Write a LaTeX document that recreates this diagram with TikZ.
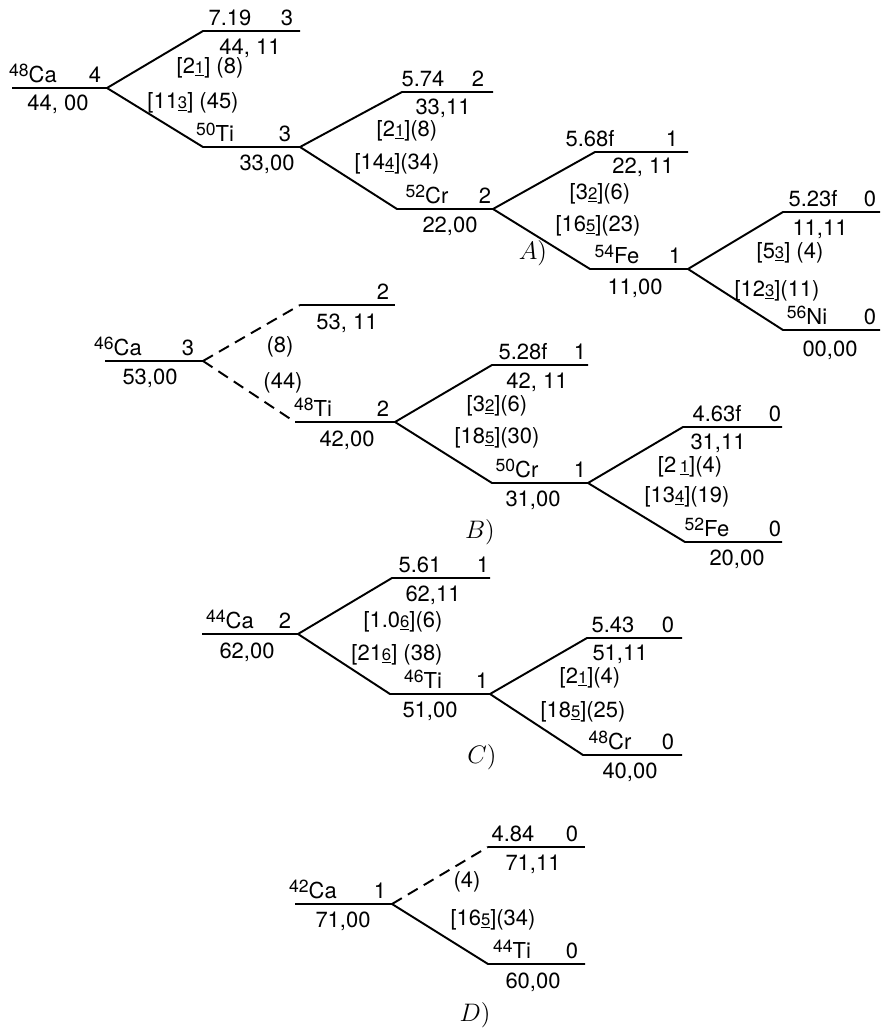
\documentclass[tikz,border=0pt]{standalone}
\usepackage{fontspec}
\setmainfont{TeX Gyre Heros}
\newcommand{\udig}[1]{\underline{\fontsize{9.5}{10}\selectfont #1}}
\newcommand{\iso}[2]{\raisebox{0.5ex}{\fontsize{10}{11}\selectfont #1}#2}

\begin{document}
\begin{tikzpicture}[
    x=0.02cm, y=-0.02cm,
    lvl/.style={line width=1.1pt},
    trd/.style={line width=1.1pt, dash pattern=on 6.5pt off 4pt},
    lab/.style={inner sep=0pt, anchor=base, font=\fontsize{12.5}{14}\selectfont},
    tag/.style={inner sep=0pt, font=\fontsize{15}{17}\selectfont}
  ]
  \useasboundingbox (0,0) rectangle (881,1032);

  % --- A) 48Ca chain ---
  \coordinate (a0l) at (12,88);   \coordinate (a0) at (107,88);
  \coordinate (a1u) at (203,31);  \coordinate (a1ue) at (300,31);
  \coordinate (a1s) at (203,147); \coordinate (a1) at (300,147);
  \coordinate (a2u) at (402,92);  \coordinate (a2ue) at (493,92);
  \coordinate (a2s) at (397,209); \coordinate (a2) at (493,209);
  \coordinate (a3u) at (595,152); \coordinate (a3ue) at (688,152);
  \coordinate (a3s) at (590,269); \coordinate (a3) at (688,269);
  \coordinate (a4u) at (783,212); \coordinate (a4ue) at (880,212);
  \coordinate (a4s) at (783,330); \coordinate (a4e) at (880,330);

  \node[lab] (caA) at (33,82) {\iso{48}{Ca}};
  \node[lab] (caAj) at (95,82) {4};
  \node[lab] (caAE) at (58,110) {44, 00};
  \node[lab] (a1uq) at (230,25) {7.19};
  \node[lab] (a1uj) at (287,25) {3};
  \node[lab] (a1uE) at (250,54) {44, 11};
  \node[lab] (a1up) at (210,73) {[2\udig{1}] (8)};
  \node[lab] (a1sp) at (193,108) {[11\udig{3}] (45)};
  \node[lab] (tiA) at (215,141) {\iso{50}{Ti}};
  \node[lab] (tiAj) at (285,141) {3};
  \node[lab] (tiAE) at (267,170) {33,00};

  \node[lab] (a2uq) at (423,86) {5.74};
  \node[lab] (a2uj) at (478,86) {2};
  \node[lab] (a2uE) at (443,114) {33,11};
  \node[lab] (a2up) at (407,136) {[2\udig{1}](8)};
  \node[lab] (a2sp) at (397,169) {[14\udig{4}](34)};
  \node[lab] (crA) at (427,203) {\iso{52}{Cr}};
  \node[lab] (crAj) at (485,203) {2};
  \node[lab] (crAE) at (450,232) {22,00};

  \node[lab] (a3uq) at (590,146) {5.68f};
  \node[lab] (a3uj) at (672,146) {1};
  \node[lab] (a3uE) at (643,173) {22, 11};
  \node[lab] (a3up) at (600,199) {[3\udig{2}](6)};
  \node[lab] (a3sp) at (598,231) {[16\udig{5}](23)};
  \node[lab] (feA) at (617,263) {\iso{54}{Fe}};
  \node[lab] (feAj) at (675,263) {1};
  \node[lab] (feAE) at (635,294) {11,00};

  \node[lab] (a4uq) at (813,206) {5.23f};
  \node[lab] (a4uj) at (870,206) {0};
  \node[lab] (a4uE) at (820,235) {11,11};
  \node[lab] (a4up) at (790,258) {[5\udig{3}] (4)};
  \node[lab] (a4sp) at (777,296) {[12\udig{3}](11)};
  \node[lab] (niA) at (807,324) {\iso{56}{Ni}};
  \node[lab] (niAj) at (870,324) {0};
  \node[lab] (niAE) at (830,356) {00,00};
  \node[tag] (tagA) at (533,253) {$A)$};

  \draw[lvl] (a0l) -- (a0);
  \draw[lvl] (a0) -- (a1u) -- (a1ue);
  \draw[lvl] (a0) -- (a1s) -- (a1);
  \draw[lvl] (a1) -- (a2u) -- (a2ue);
  \draw[lvl] (a1) -- (a2s) -- (a2);
  \draw[lvl] (a2) -- (a3u) -- (a3ue);
  \draw[lvl] (a2) -- (a3s) -- (a3);
  \draw[lvl] (a3) -- (a4u) -- (a4ue);
  \draw[lvl] (a3) -- (a4s) -- (a4e);

  % --- B) 46Ca chain ---
  \coordinate (b0l) at (105,361); \coordinate (b0) at (203,361);
  \coordinate (b1u) at (300,305); \coordinate (b1ue) at (395,305);
  \coordinate (b1s) at (295,422); \coordinate (b1) at (395,422);
  \coordinate (b2u) at (492,365); \coordinate (b2ue) at (588,365);
  \coordinate (b2s) at (492,483); \coordinate (b2) at (588,483);
  \coordinate (b3u) at (683,427); \coordinate (b3ue) at (782,427);
  \coordinate (b3s) at (685,542); \coordinate (b3e) at (782,542);

  \node[lab] (caB) at (118,355) {\iso{46}{Ca}};
  \node[lab] (caBj) at (188,355) {3};
  \node[lab] (caBE) at (150,384) {53,00};
  \node[lab] (b1uj) at (383,299) {2};
  \node[lab] (b1uE) at (347,329) {53, 11};
  \node[lab] (b1up) at (280,352) {(8)};
  \node[lab] (b1sp) at (283,388) {(44)};
  \node[lab] (tiB) at (313,416) {\iso{48}{Ti}};
  \node[lab] (tiBj) at (383,416) {2};
  \node[lab] (tiBE) at (347,446) {42,00};

  \node[lab] (b2uq) at (523,359) {5.28f};
  \node[lab] (b2uj) at (580,359) {1};
  \node[lab] (b2uE) at (537,388) {42, 11};
  \node[lab] (b2up) at (497,411) {[3\udig{2}](6)};
  \node[lab] (b2sp) at (497,443) {[18\udig{5}](30)};
  \node[lab] (crB) at (517,477) {\iso{50}{Cr}};
  \node[lab] (crBj) at (580,477) {1};
  \node[lab] (crBE) at (533,506) {31,00};
  \node[tag] (tagB) at (480,532) {$B)$};

  \node[lab] (b3uq) at (717,421) {4.63f};
  \node[lab] (b3uj) at (775,421) {0};
  \node[lab] (b3uE) at (718,449) {31,11};
  \node[lab] (b3up) at (690,472) {[2\,\udig{1}](4)};
  \node[lab] (b3sp) at (687,502) {[13\udig{4}](19)};
  \node[lab] (feB) at (707,536) {\iso{52}{Fe}};
  \node[lab] (feBj) at (775,536) {0};
  \node[lab] (feBE) at (737,565) {20,00};

  \draw[lvl] (b0l) -- (b0);
  \draw[trd] (b0) -- (b1u);
  \draw[lvl] (b1u) -- (b1ue);
  \draw[trd] (b0) -- (b1s);
  \draw[lvl] (b1s) -- (b1);
  \draw[lvl] (b1) -- (b2u) -- (b2ue);
  \draw[lvl] (b1) -- (b2s) -- (b2);
  \draw[lvl] (b2) -- (b3u) -- (b3ue);
  \draw[lvl] (b2) -- (b3s) -- (b3e);

  % --- C) 44Ca chain ---
  \coordinate (c0l) at (202,634); \coordinate (c0) at (298,634);
  \coordinate (c1u) at (392,578); \coordinate (c1ue) at (490,578);
  \coordinate (c1s) at (390,694); \coordinate (c1) at (490,694);
  \coordinate (c2u) at (587,638); \coordinate (c2ue) at (682,638);
  \coordinate (c2s) at (583,755); \coordinate (c2e) at (682,755);

  \node[lab] (caC) at (230,628) {\iso{44}{Ca}};
  \node[lab] (caCj) at (285,628) {2};
  \node[lab] (caCE) at (247,658) {62,00};
  \node[lab] (c1uq) at (420,572) {5.61};
  \node[lab] (c1uj) at (483,572) {1};
  \node[lab] (c1uE) at (433,601) {62,11};
  \node[lab] (c1up) at (403,627) {[1.0\udig{6}](6)};
  \node[lab] (c1sp) at (397,660) {[21\udig{6}] (38)};
  \node[lab] (tiC) at (423,688) {\iso{46}{Ti}};
  \node[lab] (tiCj) at (482,688) {1};
  \node[lab] (tiCE) at (430,717) {51,00};
  \node[tag] (tagC) at (482,757) {$C)$};

  \node[lab] (c2uq) at (613,632) {5.43};
  \node[lab] (c2uj) at (668,632) {0};
  \node[lab] (c2uE) at (620,660) {51,11};
  \node[lab] (c2up) at (590,683) {[2\udig{1}](4)};
  \node[lab] (c2sp) at (583,717) {[18\udig{5}](25)};
  \node[lab] (crC) at (610,749) {\iso{48}{Cr}};
  \node[lab] (crCj) at (668,749) {0};
  \node[lab] (crCE) at (630,778) {40,00};

  \draw[lvl] (c0l) -- (c0);
  \draw[lvl] (c0) -- (c1u) -- (c1ue);
  \draw[lvl] (c0) -- (c1s) -- (c1);
  \draw[lvl] (c1) -- (c2u) -- (c2ue);
  \draw[lvl] (c1) -- (c2s) -- (c2e);

  % --- D) 42Ca chain ---
  \coordinate (d0l) at (295,904); \coordinate (d0) at (392,904);
  \coordinate (d1u) at (488,847); \coordinate (d1ue) at (585,847);
  \coordinate (d1s) at (488,964); \coordinate (d1e) at (585,964);

  \node[lab] (caD) at (313,898) {\iso{42}{Ca}};
  \node[lab] (caDj) at (380,898) {1};
  \node[lab] (caDE) at (343,927) {71,00};
  \node[lab] (d1uq) at (513,841) {4.84};
  \node[lab] (d1uj) at (572,841) {0};
  \node[lab] (d1uE) at (533,870) {71,11};
  \node[lab] (d1up) at (467,887) {(4)};
  \node[lab] (d1sp) at (493,925) {[16\udig{5}](34)};
  \node[lab] (tiD) at (512,958) {\iso{44}{Ti}};
  \node[lab] (tiDj) at (572,958) {0};
  \node[lab] (tiDE) at (533,988) {60,00};
  \node[tag] (tagD) at (475,1015) {$D)$};

  \draw[lvl] (d0l) -- (d0);
  \draw[trd] (d0) -- (d1u);
  \draw[lvl] (d1u) -- (d1ue);
  \draw[lvl] (d0) -- (d1s) -- (d1e);

\end{tikzpicture}
\end{document}
